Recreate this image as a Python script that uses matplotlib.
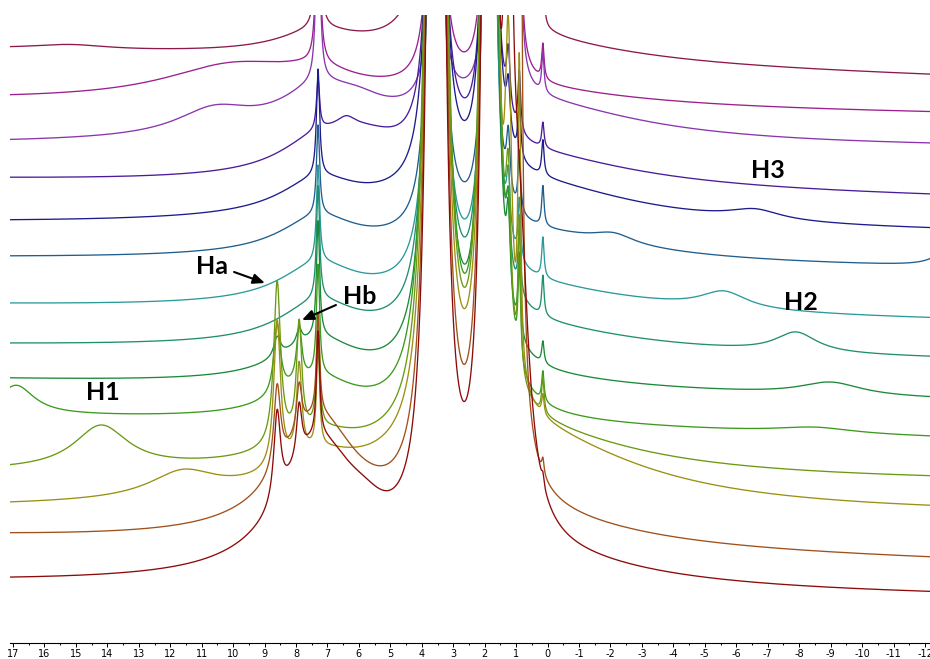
import numpy as np
import matplotlib.pyplot as plt
from matplotlib.ticker import MultipleLocator

plt.rcParams['axes.unicode_minus'] = False

# stacked 1H NMR traces, top trace first
colors = ['#8b1a4b', '#9b1f8f', '#8a35ae', '#4a1c9a', '#1c1c8c', '#1f5e8e', '#2a9a9a',
          '#1f8f70', '#1a8a3a', '#3c9a1c', '#6a9a12', '#9a9012', '#a0501a', '#8b0a0a']

# baseline level at the left (17.1 ppm) and right (-12.2 ppm) edge
base_left = [592, 542, 498, 462, 419, 384, 337, 297, 263, 227, 169, 133, 105, 60]
base_right = [566, 529, 495, 445, 410, 374, 322, 283, 243, 205, 162, 129, 82, 47]

# peak table: heights per trace for the shared signals
env_h = [23, 16, 44, 34, 45, 30, 27, 25, 11, 5, 44, 77, 28, 30]          # broad hump ~1 ppm
wing_h = [20, 18, 40, 30, 33, 35, 37, 39, 41, 39, 25, 28, 115, 130]       # CHCl3 foot
core_h = [250, 250, 250, 50, 107, 90, 97, 114, 116, 110, 110, 100, 100, 104]
p35_h = [2500, 1000, 650, 1720, 2070, 1660, 2130, 2870, 3570, 4620, 4710, 4140, 4300, 4200]
p185_h = [3500, 1410, 910, 2410, 2900, 2320, 2990, 4020, 5000, 6470, 6610, 5800, 6000, 5900]
p13_h = [1500, 1500, 1500, 60, 50, 60, 60, 60, 80, 100, 150, 300, 1200, 600]
p13_w = [0.07, 0.07, 0.07, 0.07, 0.07, 0.07, 0.07, 0.07, 0.07, 0.1, 0.1, 0.12, 0.15, 0.15]
p09_h = [400, 300, 300, 60, 60, 60, 60, 60, 80, 100, 150, 300, 1500, 250]
p09_w = [0.05, 0.05, 0.05, 0.05, 0.05, 0.05, 0.05, 0.05, 0.05, 0.05, 0.05, 0.05, 0.05, 0.35]
tms_h = [60, 35, 40, 25, 35, 40, 40, 40, 22, 30, 35, 20, 15, 10]
ha_h = [0, 0, 0, 0, 0, 0, 0, 0, 20, 70, 162, 146, 83, 89]
hb_h = [0, 0, 0, 0, 0, 0, 0, 0, 15, 55, 110, 90, 47, 53]

# shift and half width of each shared signal
shared_ppm = {'env': 1.0, 'wing': 7.3, 'core': 7.3, 'p35': 3.55, 'p185': 1.85,
              'p13': 1.25, 'p09': 0.9, 'tms': 0.15, 'ha': 8.6, 'hb': 7.9}
shared_w = {'env': 4.5, 'wing': 1.5, 'core': 0.06, 'p35': 0.12, 'p185': 0.08,
            'tms': 0.045, 'ha': 0.13, 'hb': 0.1}

# broad paramagnetic humps (trace index, shift, height, half width)
hump_trace = [0, 1, 2, 2, 3, 3, 4, 5, 5, 6, 7, 8, 9, 9, 10, 11, 13]
hump_ppm = [15.2, 10.0, 10.6, 6.0, 5.8, 6.4, -6.6, -2.1, -12.6, -5.6, -7.9, -9.0, 16.9, -8.5,
            14.2, 11.6, 5.8]
hump_h = [5, 34, 25, 12, 25, 10, 10, 10, 12, 17, 20, 13, 29, 6, 43, 25, 15]
hump_w = [1.5, 2.8, 1.5, 1.0, 1.5, 0.35, 1.0, 0.8, 0.5, 0.9, 0.8, 1.2, 0.7, 1.5, 1.05, 1.3, 0.8]


def lorentz(x, c, h, w):
    return h * w ** 2 / ((x - c) ** 2 + w ** 2)


x_left, x_right = 17.095, -12.16
ppm = np.linspace(17.2, -12.3, 8000)

fig = plt.figure(figsize=(9.3, 6.59), dpi=100)
ax = fig.add_axes([10 / 930, 16 / 659, 920 / 930, 628 / 659])

for i, col in enumerate(colors):
    frac = (17.1 - ppm) / 29.3
    y = base_left[i] + (base_right[i] - base_left[i]) * frac
    y = y + lorentz(ppm, shared_ppm['env'], env_h[i], shared_w['env'])
    y = y + lorentz(ppm, shared_ppm['wing'], wing_h[i], shared_w['wing'])
    y = y + lorentz(ppm, shared_ppm['core'], core_h[i], shared_w['core'])
    y = y + lorentz(ppm, shared_ppm['p35'], p35_h[i], shared_w['p35'])
    y = y + lorentz(ppm, shared_ppm['p185'], p185_h[i], shared_w['p185'])
    y = y + lorentz(ppm, shared_ppm['p13'], p13_h[i], p13_w[i])
    y = y + lorentz(ppm, shared_ppm['p09'], p09_h[i], p09_w[i])
    y = y + lorentz(ppm, shared_ppm['tms'], tms_h[i], shared_w['tms'])
    y = y + lorentz(ppm, shared_ppm['ha'], ha_h[i], shared_w['ha'])
    y = y + lorentz(ppm, shared_ppm['hb'], hb_h[i], shared_w['hb'])
    for k, t in enumerate(hump_trace):
        if t == i:
            y = y + lorentz(ppm, hump_ppm[k], hump_h[k], hump_w[k])
    ax.plot(ppm, y, color=col, lw=0.95)

ax.set_xlim(x_left, x_right)
ax.set_ylim(0, 628)

for s in ['left', 'right', 'top']:
    ax.spines[s].set_visible(False)
ax.spines['bottom'].set_linewidth(0.8)
ax.set_yticks([])
ax.xaxis.set_major_locator(MultipleLocator(1))
ax.xaxis.set_minor_locator(MultipleLocator(0.5))
ax.tick_params(axis='x', which='major', length=3, width=0.7, labelsize=7, pad=1.5)
ax.tick_params(axis='x', which='minor', length=1.5, width=0.7)

# labels
lab = dict(fontsize=18, fontweight='bold', family=['Lato', 'DejaVu Sans'],
           ha='center', va='center')
ax.text(10.67, 377, 'Ha', **lab)
ax.text(5.97, 346, 'Hb', **lab)
ax.text(14.14, 251, 'H1', **lab)
ax.text(-8.06, 341, 'H2', **lab)
ax.text(-7.0, 473, 'H3', **lab)

arrow = dict(arrowstyle='-|>,head_length=0.7,head_width=0.3', color='black', lw=1.5,
             shrinkA=0, shrinkB=0)
ax.annotate('', xy=(8.99, 360), xytext=(9.97, 371), arrowprops=arrow)
ax.annotate('', xy=(7.81, 323), xytext=(6.73, 338), arrowprops=arrow)

fig.savefig('out.png', dpi=100)
